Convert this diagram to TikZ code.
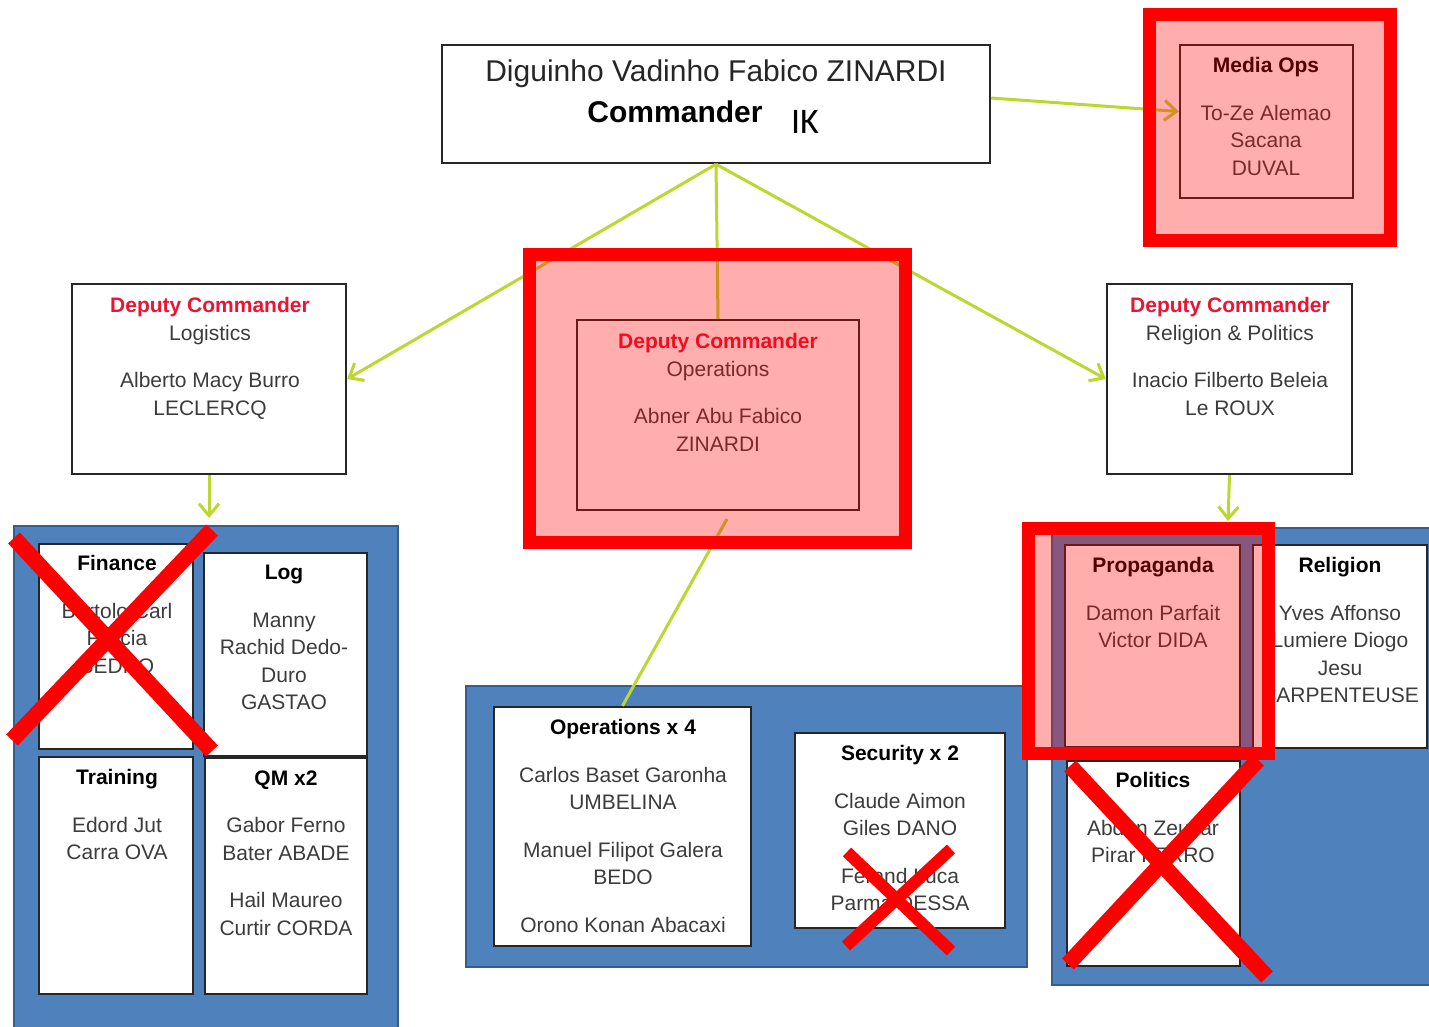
\documentclass[tikz,border=0pt]{standalone}
\usepackage{fontspec}
\setmainfont{Liberation Sans}
\newfontfamily\ikfont{Carlito}
\usetikzlibrary{arrows.meta,fit}
\definecolor{conncol}{RGB}{190,214,48}
\definecolor{panelblue}{RGB}{79,129,189}
\definecolor{paneledge}{RGB}{56,93,138}
\definecolor{deputyred}{RGB}{235,20,50}
\definecolor{txtgray}{RGB}{60,60,60}
\begin{document}
\begin{tikzpicture}[x=0.5pt,y=-0.5pt,
  panel/.style={fill=panelblue, draw=paneledge, line width=1pt},
  wbox/.style={draw=black!85, fill=white, line width=1.2pt, inner sep=0pt},
  txt/.style={align=center, inner sep=0pt, text=txtgray, anchor=north,
    font=\fontsize{10.5}{13.75}\selectfont},
  conn/.style={draw=conncol, line width=1.5pt},
  tip/.style={-{Straight Barb[length=6pt,width=10pt]}},
  hilite/.style={draw=red, line width=6.5pt, fill=red, fill opacity=0.32},
  cross/.style={draw=red, line width=8pt},
  smallcross/.style={draw=red, line width=6pt}
]
\useasboundingbox (0,0) rectangle (1429,1027);
\fill[white] (0,0) rectangle (1429,1027);

% ---------- blue panels ----------
\path[panel] (14,526) rectangle (398,1032);
\path[panel] (466,686) rectangle (1027,967);
\path[panel] (1052,528) rectangle (1440,985);

% ---------- commander ----------
\node[wbox, fit={(442,45) (990,163)}] (cmd) {};
\node[inner sep=0pt, anchor=base, font=\fontsize{15}{18}\selectfont, text=black!85] (cmdname) at (716,82) {Diguinho Vadinho Fabico ZINARDI};
\node[inner sep=0pt, anchor=base, font=\fontsize{15}{18}\selectfont\bfseries] (cmdtitle) at (675,123) {Commander};
\node[inner sep=0pt, anchor=base, font=\ikfont\fontsize{18}{20}\selectfont] (ik) at (805,134) {IK};

% ---------- media ops ----------
\node[wbox, fit={(1180,45) (1353,198)}] (media) {};
\node[txt] (mediat) at (1266,57) {\textcolor{black}{\bfseries Media Ops}\\[10pt]To-Ze Alemao\\Sacana\\DUVAL};

% ---------- deputies ----------
\node[wbox, fit={(72,284) (346,474)}] (ld) {};
\node[txt] (ldt) at (210,297) {\textcolor{deputyred}{\bfseries Deputy Commander}\\Logistics\\[10pt]Alberto Macy Burro\\LECLERCQ};

\node[wbox, fit={(577,320) (859,510)}] (md) {};
\node[txt] (mdt) at (718,333) {\textcolor{deputyred}{\bfseries Deputy Commander}\\Operations\\[10pt]Abner Abu Fabico\\ZINARDI};

\node[wbox, fit={(1107,284) (1352,474)}] (rd) {};
\node[txt] (rdt) at (1230,297) {\textcolor{deputyred}{\bfseries Deputy Commander}\\Religion \& Politics\\[10pt]Inacio Filberto Beleia\\Le ROUX};

% ---------- logistics sub-boxes ----------
\node[wbox, fit={(39,544) (193,749)}] (fin) {};
\node[txt] (fint) at (117,555) {\textcolor{black}{\bfseries Finance}\\[10pt]Bertolo Carl\\Felicia\\BEDRO};
\node[wbox, fit={(204,553) (367,756)}] (log) {};
\node[txt] (logt) at (284,565) {\textcolor{black}{\bfseries Log}\\[10pt]Manny\\Rachid Dedo-\\Duro\\GASTAO};
\node[wbox, fit={(39,757) (193,994)}] (trn) {};
\node[txt] (trnt) at (117,769) {\textcolor{black}{\bfseries Training}\\[10pt]Edord Jut\\Carra OVA};
\node[wbox, fit={(205,758) (367,994)}] (qm) {};
\node[txt] (qmt) at (286,770) {\textcolor{black}{\bfseries QM x2}\\[10pt]Gabor Ferno\\Bater ABADE\\[10pt]Hail Maureo\\Curtir CORDA};

% ---------- operations sub-boxes ----------
\node[wbox, fit={(494,707) (751,946)}] (ops) {};
\node[txt] (opst) at (623,719) {\textcolor{black}{\bfseries Operations x 4}\\[10pt]Carlos Baset Garonha\\UMBELINA\\[10pt]Manuel Filipot Galera\\BEDO\\[10pt]Orono Konan Abacaxi};
\node[wbox, fit={(795,733) (1005,928)}] (sec) {};
\node[txt] (sect) at (900,745) {\textcolor{black}{\bfseries Security x 2}\\[10pt]Claude Aimon\\Giles DANO\\[10pt]Ferand Luca\\Parma DESSA};

% ---------- religion & politics sub-boxes ----------
\node[wbox, fit={(1065,545) (1240,747)}] (prop) {};
\node[txt] (propt) at (1153,557) {\textcolor{black}{\bfseries Propaganda}\\[10pt]Damon Parfait\\Victor DIDA};
\node[wbox, fit={(1253,545) (1427,748)}] (rel) {};
\node[txt] (relt) at (1340,557) {\textcolor{black}{\bfseries Religion}\\[10pt]Yves Affonso\\Lumiere Diogo\\Jesu\\CARPENTEUSE};
\node[wbox, fit={(1067,761) (1240,966)}] (pol) {};
\node[txt] (polt) at (1153,772) {\textcolor{black}{\bfseries Politics}\\[10pt]Abdon Zeuzar\\Pirar FERRO};

% ---------- connectors ----------
\coordinate (ldtip) at (209,518);
\coordinate (rdtip) at (1228,521);
\coordinate (mdlow) at (727,519);
\draw[conn, tip] ([yshift=3pt]cmd.east) -- ([yshift=5pt]media.west);
\draw[conn, tip] (cmd.south) -- (ld.east);
\draw[conn] (cmd.south) -- (md.north);
\draw[conn, tip] (cmd.south) -- (rd.west);
\draw[conn, tip] (ld.south) -- (ldtip);
\draw[conn, tip] (rd.south) -- (rdtip);
\draw[conn] (mdlow) -- (ops.north);

% ---------- highlights ----------
\path[hilite] (1149.5,14.5) rectangle (1390.5,240.5);
\path[hilite] (529.5,254.5) rectangle (905.5,542.5);
\path[hilite] (1028.5,528.5) rectangle (1268.5,753.5);

% ---------- crosses ----------
\draw[cross] (14,538) -- (212,751);
\draw[cross] (212,530) -- (12,740);
\draw[cross] (1070,766) -- (1267,977);
\draw[cross] (1258,760) -- (1068,964);
\draw[smallcross] (847,852) -- (951,951);
\draw[smallcross] (951,849) -- (846,946);
\end{tikzpicture}
\end{document}
